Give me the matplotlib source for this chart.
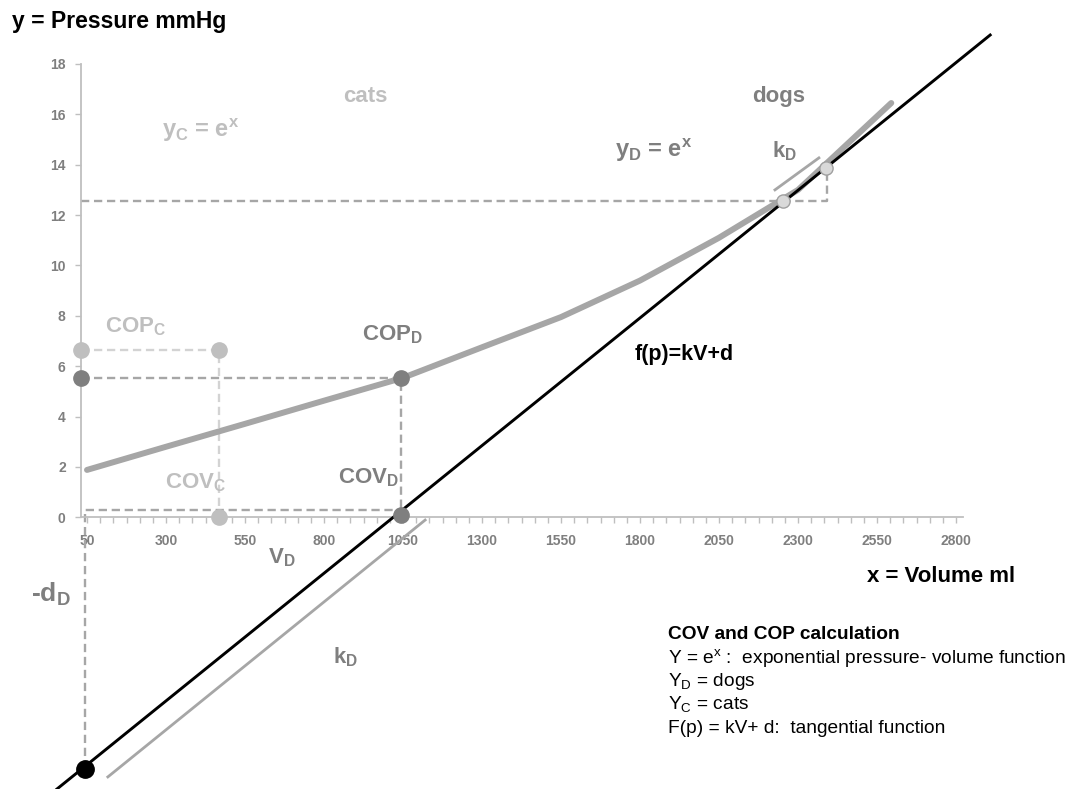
import numpy as np
import matplotlib
matplotlib.use("Agg")
import matplotlib.pyplot as plt
from matplotlib.ticker import FixedLocator

plt.rcParams["font.family"] = ["Liberation Sans", "DejaVu Sans"]
plt.rcParams["mathtext.default"] = "regular"

# exponential pressure-volume curve (dogs)
volume = [50, 300, 550, 800, 1050, 1300, 1550, 1800, 2050, 2300, 2595]
pressure = [1.88, 2.8, 3.71, 4.63, 5.54, 6.75, 7.95, 9.4, 11.1, 13.0, 16.45]

# tangent f(p) = kV + d
tangent_v = [-45, 2908]
tangent_p = [-10.79, 19.15]

# helper slope markers (k_D)
slope_low_v = [116, 1120]
slope_low_p = [-10.31, -0.11]
slope_high_v = [2227, 2366]
slope_high_p = [13.0, 14.27]

# tangent points on the curve
touch_v = [2253, 2389]
touch_p = [12.57, 13.87]

# COV / COP dogs and cats
cop_d, cov_d = 5.55, 1044
cop_c, cov_c = 6.64, 468
y_axis_v = 31
minus_d_v, minus_d_p = 45, -10.0
vd_level = 0.29

xticks = [50, 300, 550, 800, 1050, 1300, 1550, 1800, 2050, 2300, 2550, 2800]
yticks = [0, 2, 4, 6, 8, 10, 12, 14, 16, 18]

W, H = 1073, 789
GRAY = "#a6a6a6"
DARK = "#7f7f7f"
LIGHT = "#bfbfbf"
LIGHTER = "#d3d3d3"

fig = plt.figure(figsize=(W / 100, H / 100), dpi=100)
ax = fig.add_axes([81 / W, 0, 882 / W, 1])
ax.set_xlim(31, 2822)
ax.set_ylim(-10.79, 20.54)

for s in ["top", "right"]:
    ax.spines[s].set_visible(False)
ax.spines["left"].set_bounds(0, 18)
ax.spines["bottom"].set_position(("data", 0))
for s in ["left", "bottom"]:
    ax.spines[s].set_color(LIGHT)
    ax.spines[s].set_linewidth(1.3)

ax.set_yticks(yticks)
ax.set_xticks(xticks)
ax.xaxis.set_minor_locator(FixedLocator(np.arange(50, 2822, 250 / 6)))
ax.tick_params(axis="both", which="both", direction="out", color=LIGHT,
               labelcolor=DARK, labelsize=10, width=1)
ax.tick_params(axis="y", length=4, pad=7)
ax.tick_params(axis="x", which="both", length=4, pad=8)
for lab in ax.get_xticklabels() + ax.get_yticklabels():
    lab.set_fontweight("bold")

dash = dict(lw=1.7, dashes=(3.5, 2), clip_on=False)

# dashed guides
ax.plot([y_axis_v, cov_c, cov_c], [cop_c, cop_c, 0], color=LIGHTER, **dash, zorder=2)
ax.plot([y_axis_v, cov_d, cov_d], [cop_d, cop_d, 0], color=GRAY, **dash, zorder=2)
ax.plot([minus_d_v, minus_d_v, cov_d], [minus_d_p, vd_level, vd_level],
        color=GRAY, **dash, zorder=2)
ax.plot([y_axis_v, 2392, 2392], [touch_p[0], touch_p[0], touch_p[1]],
        color=GRAY, **dash, zorder=2)

# curve and tangent
ax.plot(volume, pressure, color=GRAY, lw=4.3, solid_capstyle="round", zorder=3)
ax.plot(tangent_v, tangent_p, color="black", lw=2.1, clip_on=False, zorder=4)
ax.plot(slope_low_v, slope_low_p, color=GRAY, lw=2, clip_on=False, zorder=3)
ax.plot(slope_high_v, slope_high_p, color=GRAY, lw=2, zorder=3)

# points
ax.plot([y_axis_v, cov_d, cov_d], [cop_d, cop_d, 0.1], "o", ms=11,
        color=DARK, clip_on=False, zorder=6)
ax.plot([y_axis_v, cov_c, cov_c], [cop_c, cop_c, 0], "o", ms=11,
        color=LIGHT, clip_on=False, zorder=5)
ax.plot(touch_v, touch_p, "o", ms=9.5, mfc="#d9d9d9", mec="#a0a0a0", mew=1,
        zorder=6)
ax.plot([minus_d_v], [minus_d_p], "o", ms=12.5, color="black", clip_on=False,
        zorder=6)


def label(px, py, s, color, size=16, weight="bold", ha="left"):
    fig.text(px / W, 1 - py / H, s, color=color, fontsize=size,
             fontweight=weight, ha=ha, va="baseline")


label(12, 28, "y = Pressure mmHg", "black", 16.5)
label(1015, 582, "x = Volume ml", "black", 16, ha="right")
label(365, 102, "cats", LIGHT, 16, ha="center")
label(779, 102, "dogs", DARK, 16, ha="center")
label(162, 137, "y$_C$ = e$^x$", LIGHT, 17)
label(615, 157, "y$_D$ = e$^x$", DARK, 17)
label(772, 157, "k$_D$", DARK, 16)
label(105, 332, "COP$_C$", LIGHT, 16)
label(362, 340, "COP$_D$", DARK, 16)
label(165, 488, "COV$_C$", LIGHT, 16)
label(338, 483, "COV$_D$", DARK, 16)
label(635, 360, "f(p)=kV+d", "black", 15.5)
label(268, 563, "V$_D$", DARK, 16)
label(31, 602, "-d$_D$", DARK, 19)
label(333, 663, "k$_D$", DARK, 16)

label(668, 639, "COV and COP calculation", "black", 13.8)
label(668, 663, "Y = e$^x$ :  exponential pressure- volume function", "black",
      13.8, weight="normal")
label(668, 686, "Y$_D$ = dogs", "black", 13.8, weight="normal")
label(668, 709, "Y$_C$ = cats", "black", 13.8, weight="normal")
label(668, 733, "F(p) = kV+ d:  tangential function", "black", 13.8,
      weight="normal")

fig.savefig("out.png", dpi=100)
